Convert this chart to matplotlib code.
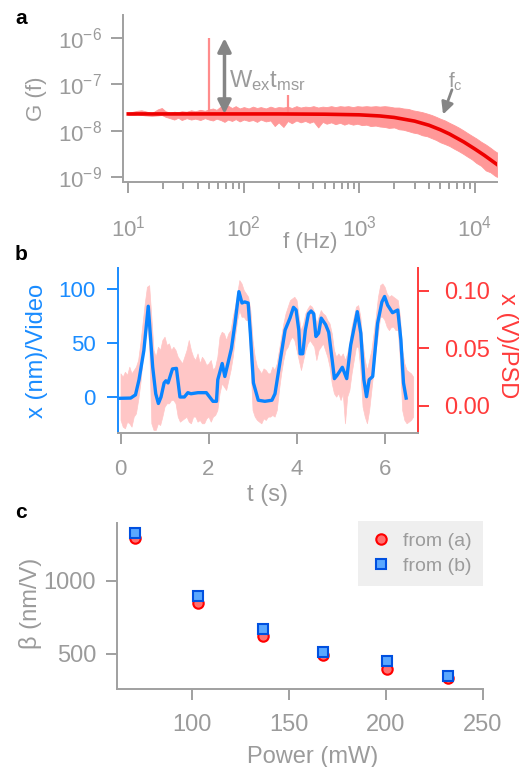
import numpy as np
import matplotlib
matplotlib.use('Agg')
import matplotlib.pyplot as plt
from matplotlib.ticker import FixedLocator, FixedFormatter, NullLocator

plt.rcParams['font.family'] = ['Liberation Sans', 'DejaVu Sans']
plt.rcParams['mathtext.fontset'] = 'custom'
plt.rcParams['mathtext.rm'] = 'Liberation Sans'
plt.rcParams['mathtext.it'] = 'Liberation Sans'
plt.rcParams['mathtext.bf'] = 'Liberation Sans:bold'

# ---------------- Panel a data ----------------
fit_f = [10, 20, 50, 100, 200, 500, 1000, 1500, 2000, 3000, 4000, 5000, 6000,
         8000, 10000, 12000, 15500]
fit_G = [2.3e-8, 2.3e-8, 2.3e-8, 2.3e-8, 2.3e-8, 2.27e-8, 2.2e-8, 2.08e-8, 1.93e-8,
         1.61e-8, 1.31e-8, 1.05e-8, 8.5e-9, 5.7e-9, 4.0e-9, 2.95e-9, 1.86e-9]

noise_f = [10, 11, 12, 13, 14, 16, 18, 19.5, 21, 23, 25, 27, 29, 32, 35, 38, 42, 46,
           50, 54, 58, 63, 68, 73, 79, 85, 92, 100, 110, 120, 130, 140, 155, 170,
           185, 200, 220, 240, 260, 285, 310, 340, 370, 400, 440, 480, 520, 570,
           620, 680, 740, 800, 880, 960, 1050, 1150, 1250, 1380, 1500, 1650, 1800,
           2000, 2200, 2400, 2650, 2900, 3200, 3500, 3850, 4200, 4600, 5000, 5500,
           6000, 6600, 7200, 7900, 8600, 9400, 10300, 11300, 12400, 13600, 14800,
           15500]
noise_hi_log = [-7.62, -7.59, -7.57, -7.56, -7.58, -7.62, -7.54, -7.51, -7.58, -7.61,
                -7.59, -7.60, -7.58, -7.59, -7.56, -7.58, -7.55, -7.57, -7.54, -7.52,
                -7.55, -7.48, -7.52, -7.46, -7.51, -7.47, -7.52, -7.49, -7.52, -7.48,
                -7.51, -7.49, -7.52, -7.48, -7.51, -7.49, -7.50, -7.48, -7.51, -7.47,
                -7.50, -7.48, -7.49, -7.47, -7.50, -7.48, -7.49, -7.47, -7.49, -7.47,
                -7.48, -7.47, -7.49, -7.47, -7.48, -7.47, -7.48, -7.47, -7.48, -7.47,
                -7.48, -7.50, -7.50, -7.52, -7.53, -7.56, -7.58, -7.60, -7.63, -7.66,
                -7.70, -7.74, -7.78, -7.83, -7.88, -7.93, -7.99, -8.05, -8.11, -8.17,
                -8.24, -8.30, -8.37, -8.44, -8.47]
noise_lo_log = [-7.66, -7.66, -7.65, -7.66, -7.67, -7.68, -7.67, -7.66, -7.70, -7.73,
                -7.76, -7.72, -7.77, -7.73, -7.76, -7.74, -7.77, -7.73, -7.76, -7.78,
                -7.74, -7.77, -7.81, -7.76, -7.79, -7.75, -7.80, -7.76, -7.79, -7.77,
                -7.81, -7.76, -7.80, -7.78, -7.90, -7.82, -7.92, -7.79, -7.84, -7.78,
                -7.82, -7.79, -7.83, -7.80, -7.93, -7.81, -7.85, -7.82, -7.86, -7.83,
                -7.87, -7.84, -7.87, -7.85, -7.88, -7.87, -7.90, -7.89, -7.91, -7.92,
                -7.94, -7.93, -7.97, -7.98, -8.01, -8.04, -8.06, -8.10, -8.12, -8.16,
                -8.20, -8.25, -8.29, -8.33, -8.39, -8.44, -8.50, -8.56, -8.62, -8.70,
                -8.76, -8.86, -8.90, -8.97, -9.00]

spike_f = [50, 240]
spike_G = [1e-6, 6e-8]

a_yticks = [1e-9, 1e-8, 1e-7, 1e-6]
a_yticklabels = [r'$\mathregular{10^{-9}}$', r'$\mathregular{10^{-8}}$',
                 r'$\mathregular{10^{-7}}$', r'$\mathregular{10^{-6}}$']
a_xticks = [10, 100, 1000, 10000]
a_xticklabels = [r'$\mathregular{10^{1}}$', r'$\mathregular{10^{2}}$',
                 r'$\mathregular{10^{3}}$', r'$\mathregular{10^{4}}$']
a_xminor = [20, 30, 40, 50, 60, 70, 80, 90, 200, 300, 400, 500, 600, 700, 800, 900,
            2000, 3000, 4000, 5000, 6000, 7000, 8000, 9000]

# ---------------- Panel b data ----------------
video_t = [0.0, 0.23, 0.34, 0.42, 0.53, 0.63, 0.73, 0.80, 0.86, 0.92, 0.99, 1.03,
           1.08, 1.18, 1.27, 1.35, 1.45, 1.53, 1.60, 1.76, 1.95, 2.10, 2.18, 2.21,
           2.31, 2.37, 2.44, 2.52, 2.60, 2.69, 2.76, 2.82, 2.90, 2.95, 3.02, 3.13,
           3.28, 3.44, 3.51, 3.63, 3.74, 3.85, 3.93, 3.99, 4.05, 4.08, 4.14, 4.20,
           4.27, 4.33, 4.39, 4.44, 4.50, 4.56, 4.66, 4.73, 4.81, 4.86, 4.92, 5.04,
           5.14, 5.23, 5.38, 5.46, 5.53, 5.59, 5.65, 5.73, 5.84, 5.94, 6.00, 6.07,
           6.18, 6.30, 6.37, 6.43, 6.49]
video_x = [-1.2, -1, 2, 16, 43, 84, 28, 3, -6, 0, 13, 15, 13, 26, 26.5, 0, 0, 4, 3,
           4, 4, -4, -4, 16, 31, 19, 31, 45, 68, 97.5, 87, 88, 87, 59, 13, -3, -4,
           -3, 3, 34, 62, 73, 83, 80.5, 62, 40, 40, 62, 77, 79.6, 77, 56, 59, 73, 67,
           60, 34, 17, 20, 27.5, 17, 48, 79, 59, 16, 0.3, 16, 19, 68, 88, 93, 85, 78,
           80.5, 53, 13, -1]

psd_t = [0.0, 0.05, 0.1, 0.15, 0.2, 0.25, 0.3, 0.35, 0.4, 0.45, 0.5, 0.55, 0.6, 0.65,
         0.7, 0.75, 0.8, 0.85, 0.9, 0.95, 1.0, 1.05, 1.1, 1.15, 1.2, 1.25, 1.3, 1.35,
         1.4, 1.45, 1.5, 1.55, 1.6, 1.65, 1.7, 1.75, 1.8, 1.85, 1.9, 1.95, 2.0, 2.05,
         2.1, 2.15, 2.2, 2.25, 2.3, 2.35, 2.4, 2.45, 2.5, 2.55, 2.6, 2.65, 2.7, 2.75,
         2.8, 2.85, 2.9, 2.95, 3.0, 3.05, 3.1, 3.15, 3.2, 3.25, 3.3, 3.35, 3.4, 3.45,
         3.5, 3.55, 3.6, 3.65, 3.7, 3.75, 3.8, 3.85, 3.9, 3.95, 4.0, 4.05, 4.1, 4.15,
         4.2, 4.25, 4.3, 4.35, 4.4, 4.45, 4.5, 4.55, 4.6, 4.65, 4.7, 4.75, 4.8, 4.85,
         4.9, 4.95, 5.0, 5.05, 5.1, 5.15, 5.2, 5.25, 5.3, 5.35, 5.4, 5.45, 5.5, 5.55,
         5.6, 5.65, 5.7, 5.75, 5.8, 5.85, 5.9, 5.95, 6.0, 6.05, 6.1, 6.15, 6.2, 6.25,
         6.3, 6.35, 6.4, 6.45, 6.5, 6.55, 6.6, 6.65]
psd_hi = [0.0283, 0.0254, 0.0297, 0.0269, 0.0341, 0.0283, 0.0312, 0.0341, 0.0399,
          0.0543, 0.0716, 0.0889, 0.1034, 0.1048, 0.0774, 0.0485, 0.0427, 0.0514,
          0.0485, 0.0572, 0.0601, 0.0529, 0.0543, 0.0485, 0.0514, 0.0485, 0.0427,
          0.0399, 0.0370, 0.0427, 0.0485, 0.0572, 0.0485, 0.0427, 0.0399, 0.0456,
          0.0370, 0.0427, 0.0399, 0.0355, 0.0370, 0.0399, 0.0312, 0.0341, 0.0427,
          0.0601, 0.0644, 0.0630, 0.0572, 0.0630, 0.0658, 0.0774, 0.0861, 0.0976,
          0.1092, 0.1063, 0.1005, 0.0976, 0.0947, 0.0832, 0.0572, 0.0427, 0.0341,
          0.0312, 0.0283, 0.0326, 0.0312, 0.0283, 0.0283, 0.0341, 0.0312, 0.0370,
          0.0485, 0.0601, 0.0716, 0.0803, 0.0861, 0.0918, 0.0933, 0.0947, 0.0918,
          0.0774, 0.0658, 0.0716, 0.0803, 0.0846, 0.0875, 0.0861, 0.0817, 0.0716,
          0.0774, 0.0832, 0.0803, 0.0788, 0.0745, 0.0716, 0.0630, 0.0485, 0.0427,
          0.0456, 0.0427, 0.0456, 0.0399, 0.0456, 0.0543, 0.0687, 0.0774, 0.0861,
          0.0875, 0.0774, 0.0543, 0.0399, 0.0312, 0.0399, 0.0485, 0.0630, 0.0774,
          0.0947, 0.1048, 0.1063, 0.1034, 0.0976, 0.0947, 0.0962, 0.0947, 0.0933,
          0.0918, 0.0774, 0.0485, 0.0370, 0.0312, 0.0297, 0.0283, 0.0254]
psd_lo = [-0.0121, -0.0179, -0.0193, -0.0136, -0.0150, -0.0179, -0.0092, -0.0064,
          0.0052, 0.0196, 0.0399, 0.0543, 0.0716, 0.0543, -0.0150, -0.0208, -0.0208,
          -0.0150, -0.0165, -0.0092, -0.0006, 0.0023, 0.0023, 0.0052, 0.0052, 0.0023,
          -0.0092, -0.0136, -0.0121, -0.0107, -0.0092, -0.0136, -0.0150, -0.0092,
          -0.0092, -0.0136, -0.0121, -0.0150, -0.0150, -0.0107, -0.0092, -0.0136,
          -0.0092, -0.0078, -0.0035, 0.0110, 0.0196, 0.0168, 0.0139, 0.0225, 0.0312,
          0.0427, 0.0601, 0.0745, 0.0832, 0.0774, 0.0774, 0.0745, 0.0745, 0.0399,
          -0.0035, -0.0092, -0.0121, -0.0136, -0.0150, -0.0107, -0.0121, -0.0092,
          -0.0092, -0.0078, -0.0092, -0.0035, 0.0139, 0.0283, 0.0399, 0.0485, 0.0514,
          0.0572, 0.0601, 0.0572, 0.0485, 0.0399, 0.0312, 0.0399, 0.0485, 0.0543,
          0.0572, 0.0543, 0.0514, 0.0399, 0.0485, 0.0514, 0.0543, 0.0485, 0.0427,
          0.0341, 0.0196, 0.0110, 0.0081, 0.0110, 0.0052, 0.0110, -0.0150, 0.0081,
          0.0139, 0.0283, 0.0399, 0.0514, 0.0514, 0.0312, -0.0006, -0.0092, -0.0150,
          -0.0035, 0.0139, 0.0312, 0.0485, 0.0630, 0.0774, 0.0774, 0.0745, 0.0687,
          0.0658, 0.0687, 0.0687, 0.0658, 0.0658, 0.0399, -0.0035, -0.0121, -0.0150,
          -0.0136, -0.0121, -0.0092]

b_xticks = [0, 2, 4, 6]
b_left_ticks = [0, 50, 100]
b_right_ticks = [0.00, 0.05, 0.10]
b_right_labels = ['0.00', '0.05', '0.10']

# ---------------- Panel c data ----------------
power = [70.6, 103.1, 136.8, 167.7, 200.7, 232.1]
beta_a = [1292, 847, 620, 493, 397, 334]
beta_b = [1331, 899, 671, 512, 454, 351]
c_xticks = [100, 150, 200, 250]
c_yticks = [500, 1000]

# ---------------- Styles ----------------
GRAY = '#9b9b9b'
SPINE = '#a0a0a0'
BLUE = '#1a8cff'
RED = '#ff3b3b'

fig = plt.figure(figsize=(5.22, 7.67), dpi=100)

# ===== Panel a =====
axa = fig.add_axes([0.2356, 0.7627, 0.7165, 0.2177])
axa.set_xscale('log')
axa.set_yscale('log')
axa.fill_between(noise_f, [10 ** v for v in noise_hi_log], [10 ** v for v in noise_lo_log],
                 color='#ff9898', lw=0.6, ec='#ff9898')
axa.vlines(spike_f, [2.3e-8] * len(spike_f), spike_G, color='#ff8c8c', lw=1.6)
axa.plot(fit_f, fit_G, color='#ee0000', lw=2.6)
axa.set_xlim(9.0, 15500)
axa.set_ylim(10 ** -9.11, 10 ** -5.5)
axa.yaxis.set_major_locator(FixedLocator(a_yticks))
axa.yaxis.set_major_formatter(FixedFormatter(a_yticklabels))
axa.yaxis.set_minor_locator(NullLocator())
axa.xaxis.set_major_locator(FixedLocator(a_xticks))
axa.xaxis.set_major_formatter(FixedFormatter(a_xticklabels))
axa.xaxis.set_minor_locator(FixedLocator(a_xminor))
axa.tick_params(axis='y', which='major', length=9, width=1.4, color=SPINE,
                labelcolor=GRAY, labelsize=16, pad=6)
axa.tick_params(axis='x', which='major', length=8, width=1.4, color=SPINE,
                labelcolor=GRAY, labelsize=16, pad=16)
axa.tick_params(axis='x', which='minor', length=5, width=1.4, color=SPINE)
for s in ['top', 'right']:
    axa.spines[s].set_visible(False)
for s in ['left', 'bottom']:
    axa.spines[s].set_color(SPINE)
    axa.spines[s].set_linewidth(1.4)
axa.text(-0.23, 0.5, 'G (f)', transform=axa.transAxes, rotation=90, ha='center',
         va='center', fontsize=16, color=GRAY)
axa.text(0.5, -0.365, 'f (Hz)', transform=axa.transAxes, ha='center', va='center',
         fontsize=16, color=GRAY)
axa.annotate('', xy=(68, 1e-6), xytext=(68, 2.3e-8),
             arrowprops=dict(arrowstyle='<|-|>', color='#858585', lw=2.5,
                             mutation_scale=20, shrinkA=0, shrinkB=0))
axa.text(74, 10 ** -6.92, r'$\mathregular{W_{ex}t_{msr}}$', ha='left', va='center',
         fontsize=17, color=GRAY)
axa.annotate('', xy=(5290, 10 ** -7.65), xytext=(6320, 10 ** -7.115),
             arrowprops=dict(arrowstyle='-|>', color='#858585', lw=2,
                             mutation_scale=18, shrinkA=0, shrinkB=0))
axa.text(6800, 10 ** -6.94, r'$\mathregular{f_c}$', ha='center', va='center',
         fontsize=15, color=GRAY)

# ===== Panel b =====
axb = fig.add_axes([0.2261, 0.4355, 0.5747, 0.2151])
axb2 = axb.twinx()
axb2.fill_between(psd_t, psd_hi, psd_lo, color='#ffc6c6', lw=0.5, ec='#ffc6c6')
axb2.set_ylim(-0.0234, 0.1197)
axb.plot(video_t, video_x, color='#0a84ff', lw=2.4, solid_joinstyle='round')
axb.set_ylim(-33.3, 119.4)
axb.set_xlim(-0.057, 6.76)
axb.set_zorder(axb2.get_zorder() + 1)
axb.patch.set_visible(False)

axb.xaxis.set_major_locator(FixedLocator(b_xticks))
axb.yaxis.set_major_locator(FixedLocator(b_left_ticks))
axb2.yaxis.set_major_locator(FixedLocator(b_right_ticks))
axb2.yaxis.set_major_formatter(FixedFormatter(b_right_labels))
axb.tick_params(axis='x', length=8, width=1.4, color=SPINE, labelcolor=GRAY,
                labelsize=16, pad=11)
axb.tick_params(axis='y', length=8, width=1.4, color=BLUE, labelcolor=BLUE,
                labelsize=16, pad=8)
axb2.tick_params(axis='y', length=8, width=1.4, color=RED, labelcolor=RED,
                 labelsize=17, pad=11)
for s in ['top', 'right']:
    axb.spines[s].set_visible(False)
axb.spines['left'].set_color(BLUE)
axb.spines['left'].set_linewidth(1.4)
axb.spines['bottom'].set_color(SPINE)
axb.spines['bottom'].set_linewidth(1.4)
for s in ['top', 'left', 'bottom']:
    axb2.spines[s].set_visible(False)
axb2.spines['right'].set_color(RED)
axb2.spines['right'].set_linewidth(1.4)
axb.text(-0.27, 0.50, 'x (nm)/Video', transform=axb.transAxes, rotation=90,
         ha='center', va='center', fontsize=17, color=BLUE)
axb.text(1.297, 0.53, 'x (V)/PSD', transform=axb.transAxes, rotation=270,
         ha='center', va='center', fontsize=17, color=RED)
axb.text(0.498, -0.376, 't (s)', transform=axb.transAxes, ha='center', va='center',
         fontsize=17, color=GRAY)

# ===== Panel c =====
axc = fig.add_axes([0.2241, 0.1017, 0.7011, 0.2164])
axc.plot(power, beta_a, 'o', ms=7.5, mfc='#ff7070', mec='#ff0000', mew=1.5,
         label='from (a)')
axc.plot(power, beta_b, 's', ms=7.5, mfc='#5aa8ff', mec='#0050e0', mew=1.5,
         label='from (b)')
axc.set_xlim(61.3, 250)
axc.set_ylim(260, 1397)
axc.xaxis.set_major_locator(FixedLocator(c_xticks))
axc.yaxis.set_major_locator(FixedLocator(c_yticks))
axc.tick_params(axis='both', length=8, width=1.4, color=SPINE, labelcolor=GRAY,
                labelsize=17)
axc.tick_params(axis='x', pad=10)
axc.tick_params(axis='y', pad=7)
for s in ['top', 'right']:
    axc.spines[s].set_visible(False)
for s in ['left', 'bottom']:
    axc.spines[s].set_color(SPINE)
    axc.spines[s].set_linewidth(1.4)
axc.text(-0.235, 0.518, 'β (nm/V)', transform=axc.transAxes, rotation=90,
         ha='center', va='center', fontsize=17, color=GRAY)
axc.text(0.534, -0.41, 'Power (mW)', transform=axc.transAxes, ha='center',
         va='center', fontsize=17, color=GRAY)
leg = axc.legend(loc='upper right', bbox_to_anchor=(1.0, 1.012), fontsize=14,
                 frameon=True, fancybox=False, borderaxespad=0, handletextpad=0.5,
                 handlelength=1.2, borderpad=0.6, labelspacing=0.35)
leg.get_frame().set_facecolor('#efefef')
leg.get_frame().set_edgecolor('none')
leg.get_frame().set_alpha(1)
for t in leg.get_texts():
    t.set_color(GRAY)

# panel letters
fig.text(0.040, 1 - 18 / 767, 'a', fontsize=15, fontweight='bold', ha='center',
         va='center')
fig.text(0.040, 1 - 255 / 767, 'b', fontsize=15, fontweight='bold', ha='center',
         va='center')
fig.text(0.040, 1 - 513 / 767, 'c', fontsize=15, fontweight='bold', ha='center',
         va='center')

fig.savefig('out.png', dpi=100)
